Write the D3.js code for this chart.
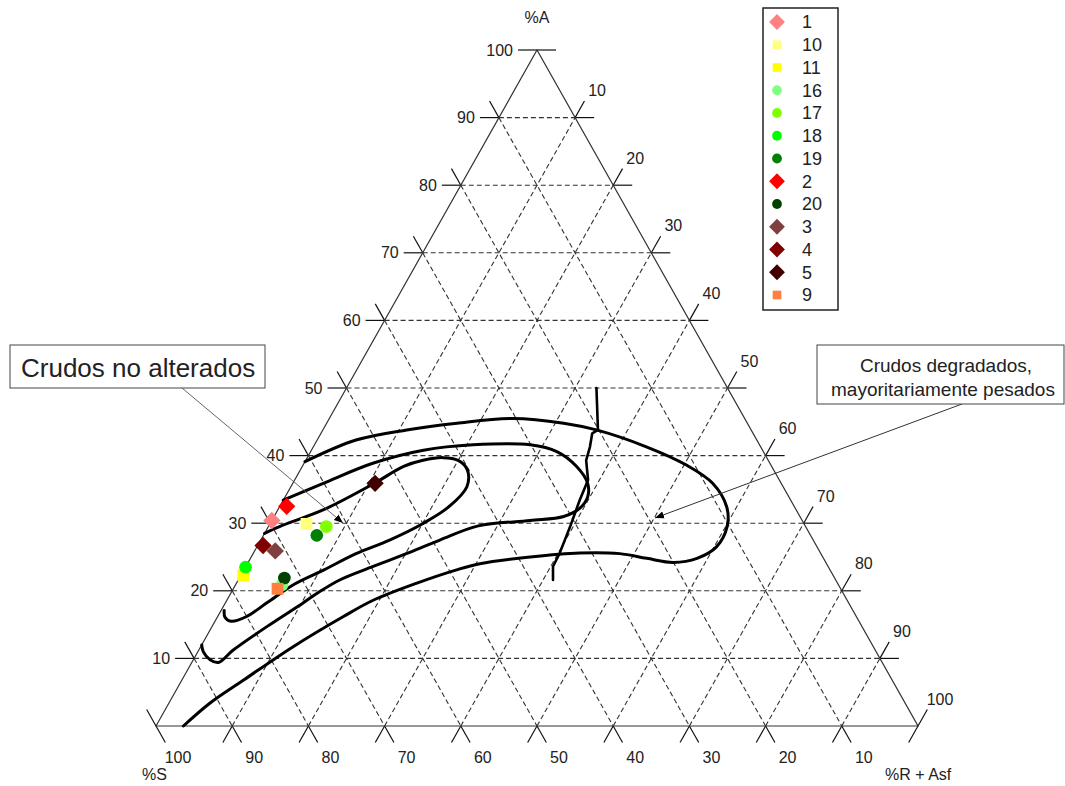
<!DOCTYPE html>
<html>
<head>
<meta charset="utf-8">
<style>
  body { margin: 0; background: #fff; }
  svg text { font-family: "Liberation Sans", Arial, sans-serif; fill: #222; }
</style>
</head>
<body>
<svg id="chart" width="1065" height="786"></svg>
<script src="https://cdn.jsdelivr.net/npm/d3@7"></script>
<script>
// samples, in legend order
var samples = ["1", "10", "11", "16", "17", "18", "19", "2", "20", "3", "4", "5", "9"];
var pctA = [30.4, 29.9, 22.3, 20.9, 29.5, 23.5, 28.2, 32.5, 21.9, 25.9, 26.7, 35.9, 20.3];
var pctR = [0.0, 4.8, 0.3, 6.1, 7.6, 0.0, 7.0, 0.9, 5.9, 2.7, 0.7, 10.8, 5.8];
var shapes = ["diamond", "square", "square", "circle", "circle", "circle", "circle",
              "diamond", "circle", "diamond", "diamond", "diamond", "square"];
var colors = ["#FF8080", "#FFFF80", "#FFFF00", "#80FF80", "#80FF00", "#00FF00", "#008000",
              "#FF0000", "#004000", "#804040", "#800000", "#400000", "#FF8040"];

var tickValues = [10, 20, 30, 40, 50, 60, 70, 80, 90, 100];

// field boundaries, as [%A, %R + Asf]
var innerCurve = [[28.5, 0], [29.7, 1.8], [32.0, 6.0], [35.9, 10.7], [38.4, 13.3], [39.3, 15.4],
  [39.7, 17.8], [39.3, 20.0], [37.9, 21.9], [35.4, 23.1], [32.4, 22.2], [30.0, 20.1],
  [27.5, 16.9], [25.5, 13.5], [23.1, 10.5], [21.0, 7.7], [18.3, 5.5], [16.2, 3.8],
  [15.5, 2.1], [16.1, 1.0], [17.1, 0.4]];
var middleCurve = [[33.4, 0], [35.9, 4.0], [38.9, 9.1], [40.8, 14.7], [41.6, 20.8], [41.6, 28.3],
  [40.6, 32.3], [38.4, 36.0], [35.9, 38.7], [33.9, 39.7], [32.2, 39.5], [31.0, 38.0],
  [30.4, 33.9], [29.6, 27.5], [27.5, 23.5], [25.5, 20.1], [23.6, 16.7], [21.6, 13.3],
  [19.6, 11.3], [18.2, 10.2], [14.7, 7.2], [11.2, 4.5], [9.4, 3.5], [9.8, 2.2], [11.0, 0.7],
  [12.0, 0]];
var outerCurve = [[39.1, 0], [42.3, 5.1], [43.8, 11.0], [44.8, 17.1], [45.5, 24.1], [44.8, 31.1],
  [43.8, 35.9], [41.3, 43.7], [38.6, 50.3], [35.9, 55.1], [32.4, 58.7], [29.5, 60.2],
  [26.5, 60.3], [24.8, 58.6], [24.2, 55.8], [24.8, 52.0], [25.5, 48.1], [25.6, 42.8],
  [25.0, 36.6], [24.0, 30.5], [23.1, 27.9], [21.1, 23.6], [18.6, 19.2], [16.2, 16.5],
  [11.7, 12.1], [6.8, 8.1], [3.4, 5.4], [0, 3.6]];
var divideLine = [[50.0, 32.8], [43.8, 36.1], [43.3, 35.6], [41.3, 36.3], [39.3, 36.8],
  [36.4, 38.5], [33.4, 38.9], [29.5, 39.6], [25.5, 40.2], [23.6, 40.3], [21.6, 41.3]];

var svg = d3.select("#chart");

// triangle: S at bottom left, A at top, R + Asf at bottom right
var sx = d3.scaleLinear().domain([0, 100]).range([156, 918]);
var sy = d3.scaleLinear().domain([0, 100]).range([726, 50]);
function proj(a, r) { return [sx(r + a / 2), sy(a)]; }

var tickLen = 19;
function unit(p, q) {
    var dx = q[0] - p[0], dy = q[1] - p[1], n = Math.sqrt(dx * dx + dy * dy);
    return [dx / n, dy / n];
}
var dirLeft = unit(proj(0, 0), proj(100, 0));   // along left edge, upward
var dirRight = unit(proj(100, 0), proj(0, 100)); // along right edge, downward

// grid lines for each of the three components
var gridLines = [];
tickValues.forEach(function (v) {
    gridLines.push({ p1: proj(v, 0), p2: proj(v, 100 - v), dir: [1, 0] });           // constant A
    gridLines.push({ p1: proj(0, v), p2: proj(100 - v, v), dir: dirLeft });          // constant R
    gridLines.push({ p1: proj(100 - v, 0), p2: proj(0, 100 - v), dir: dirRight });   // constant S
});

var grid = svg.append("g").attr("class", "grid");
grid.selectAll("line.dash")
    .data(gridLines.filter(function (d) { return d.p1[0] !== d.p2[0] || d.p1[1] !== d.p2[1]; }))
    .enter().append("line")
    .attr("class", "dash")
    .attr("x1", function (d) { return d.p1[0]; })
    .attr("y1", function (d) { return d.p1[1]; })
    .attr("x2", function (d) { return d.p2[0]; })
    .attr("y2", function (d) { return d.p2[1]; })
    .attr("stroke", "#333")
    .attr("stroke-width", 1.1)
    .attr("stroke-dasharray", "5,3");

// tick marks: each grid line pushed out past both edges
var ticks = svg.append("g").attr("class", "ticks");
gridLines.forEach(function (d) {
    var u = d.dir;
    ticks.append("line")
        .attr("x1", d.p1[0] - u[0] * tickLen).attr("y1", d.p1[1] - u[1] * tickLen)
        .attr("x2", d.p1[0]).attr("y2", d.p1[1]);
    ticks.append("line")
        .attr("x1", d.p2[0]).attr("y1", d.p2[1])
        .attr("x2", d.p2[0] + u[0] * tickLen).attr("y2", d.p2[1] + u[1] * tickLen);
});
ticks.selectAll("line").attr("stroke", "#111").attr("stroke-width", 1.2);

// triangle outline
var corners = [proj(0, 0), proj(100, 0), proj(0, 100)];
svg.append("path")
    .attr("d", "M" + corners.join("L") + "Z")
    .attr("fill", "none")
    .attr("stroke", "#333")
    .attr("stroke-width", 1.2);

// tick labels
var labels = svg.append("g").attr("font-size", 16);
labels.selectAll("text.a").data(tickValues).enter().append("text")
    .attr("x", function (v) { return proj(v, 0)[0] - 24; })
    .attr("y", function (v) { return proj(v, 0)[1]; })
    .attr("dy", "0.35em")
    .attr("text-anchor", "end")
    .text(function (v) { return v; });
labels.selectAll("text.r").data(tickValues).enter().append("text")
    .attr("x", function (v) { return proj(100 - v, v)[0] + 22; })
    .attr("y", function (v) { return proj(100 - v, v)[1] - 27; })
    .attr("dy", "0.35em")
    .attr("text-anchor", "middle")
    .text(function (v) { return v; });
labels.selectAll("text.s").data(tickValues).enter().append("text")
    .attr("x", function (v) { return proj(0, 100 - v)[0] + 22; })
    .attr("y", 757)
    .attr("dy", "0.35em")
    .attr("text-anchor", "middle")
    .text(function (v) { return v; });

labels.append("text").attr("x", 537).attr("y", 17).attr("dy", "0.35em")
    .attr("text-anchor", "middle").text("%A");
labels.append("text").attr("x", 142).attr("y", 774).attr("dy", "0.35em").text("%S");
labels.append("text").attr("x", 885).attr("y", 774).attr("dy", "0.35em").text("%R + Asf");

// field boundaries
var line = d3.line()
    .x(function (d) { return proj(d[0], d[1])[0]; })
    .y(function (d) { return proj(d[0], d[1])[1]; })
    .curve(d3.curveCatmullRom.alpha(0.5));
var curves = svg.append("g").attr("fill", "none").attr("stroke", "#000")
    .attr("stroke-linecap", "round").attr("stroke-linejoin", "round");
[innerCurve, middleCurve, outerCurve].forEach(function (c) {
    curves.append("path").attr("d", line(c)).attr("stroke-width", 3);
});
curves.append("path").attr("d", line.curve(d3.curveLinear)(divideLine)).attr("stroke-width", 2.6);

// markers
var markerArea = { diamond: 150, square: 140, circle: 125 };
var legendArea = { diamond: 125, square: 75, circle: 75 };
function symbolPath(shape, area) {
    var t = shape === "circle" ? d3.symbolCircle : d3.symbolSquare;
    return d3.symbol().type(t).size(area)();
}
var pts = svg.append("g").attr("class", "points");
samples.forEach(function (s, i) {
    var p = proj(pctA[i], pctR[i]);
    pts.append("path")
        .attr("d", symbolPath(shapes[i], markerArea[shapes[i]]))
        .attr("transform", "translate(" + p[0] + "," + p[1] + ")" +
            (shapes[i] === "diamond" ? " rotate(45)" : ""))
        .attr("fill", colors[i]);
});

// legend
var legend = svg.append("g").attr("class", "legend");
legend.append("rect")
    .attr("x", 763).attr("y", 8).attr("width", 75).attr("height", 302)
    .attr("fill", "#fff").attr("stroke", "#222").attr("stroke-width", 1.5);
var ly = d3.scalePoint().domain(samples).range([22, 295]);
samples.forEach(function (s, i) {
    legend.append("path")
        .attr("d", symbolPath(shapes[i], legendArea[shapes[i]]))
        .attr("transform", "translate(777," + ly(s) + ")" +
            (shapes[i] === "diamond" ? " rotate(45)" : ""))
        .attr("fill", colors[i]);
    legend.append("text")
        .attr("x", 802).attr("y", ly(s)).attr("dy", "0.36em")
        .attr("font-size", 18)
        .text(s);
});

// callouts
var defs = svg.append("defs");
defs.append("marker").attr("id", "arrow")
    .attr("viewBox", "0 0 10 10").attr("refX", 10).attr("refY", 5)
    .attr("markerWidth", 9).attr("markerHeight", 9)
    .attr("markerUnits", "userSpaceOnUse")
    .attr("orient", "auto")
    .append("path").attr("d", "M0,1L10,5L0,9Z").attr("fill", "#000");

var notes = svg.append("g").attr("class", "notes");
notes.append("line").attr("x1", 182).attr("y1", 388).attr("x2", 343).attr("y2", 523)
    .attr("stroke", "#555").attr("stroke-width", 0.9).attr("marker-end", "url(#arrow)");
notes.append("line").attr("x1", 962).attr("y1", 404).attr("x2", 655).attr("y2", 518)
    .attr("stroke", "#333").attr("stroke-width", 1).attr("marker-end", "url(#arrow)");

notes.append("rect").attr("x", 10).attr("y", 345).attr("width", 255).attr("height", 43)
    .attr("fill", "#fff").attr("stroke", "#444").attr("stroke-width", 1);
notes.append("text").attr("x", 21).attr("y", 368).attr("dy", "0.35em")
    .attr("font-size", 26).attr("fill", "#000").text("Crudos no alterados");

notes.append("rect").attr("x", 817).attr("y", 345).attr("width", 247).attr("height", 59)
    .attr("fill", "#fff").attr("stroke", "#444").attr("stroke-width", 1);
notes.append("text").attr("x", 946).attr("y", 365).attr("dy", "0.35em")
    .attr("text-anchor", "middle").attr("font-size", 19).attr("fill", "#000")
    .text("Crudos degradados,");
notes.append("text").attr("x", 943).attr("y", 389).attr("dy", "0.35em")
    .attr("text-anchor", "middle").attr("font-size", 19).attr("fill", "#000")
    .text("mayoritariamente pesados");
</script>
</body>
</html>
